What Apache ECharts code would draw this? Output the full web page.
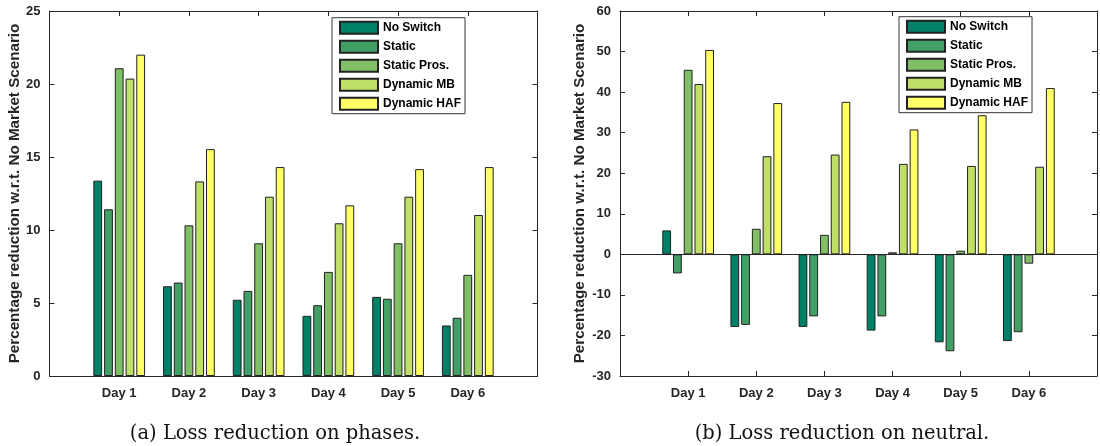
<!DOCTYPE html>
<html>
<head>
<meta charset="utf-8">
<script src="https://cdn.jsdelivr.net/npm/echarts@6/dist/echarts.min.js"></script>
<style>
  html, body { margin: 0; padding: 0; background: #fff; }
  #chart { width: 1100px; height: 446px; }
</style>
</head>
<body>
<div id="chart"></div>
<script>
// categories and series
const days = ["Day 1", "Day 2", "Day 3", "Day 4", "Day 5", "Day 6"];
const seriesNames = ["No Switch", "Static", "Static Pros.", "Dynamic MB", "Dynamic HAF"];
const colors = ["#008066", "#40A066", "#80BF66", "#BFDF66", "#FFFF66"];

// (a) loss reduction on phases
const phNoSwitch   = [13.38, 6.15, 5.22, 4.12, 5.42, 3.46];
const phStatic     = [11.42, 6.40, 5.83, 4.85, 5.29, 3.99];
const phStaticPros = [21.08, 10.32, 9.09, 7.13, 9.09, 6.93];
const phDynMB      = [20.37, 13.33, 12.28, 10.46, 12.28, 11.03];
const phDynHAF     = [22.01, 15.54, 14.31, 11.69, 14.17, 14.31];

// (b) loss reduction on neutral
const neNoSwitch   = [5.9, -17.9, -17.9, -18.8, -21.7, -21.4];
const neStatic     = [-4.7, -17.4, -15.3, -15.3, -23.9, -19.2];
const neStaticPros = [45.5, 6.3, 4.8, 0.5, 0.9, -2.3];
const neDynMB      = [42.0, 24.2, 24.6, 22.3, 21.8, 21.6];
const neDynHAF     = [50.4, 37.3, 37.6, 30.8, 34.3, 41.0];

// y ticks
const phTicks = { min: 0, max: 25, step: 5 };
const neTicks = { min: -30, max: 60, step: 10 };

const captions = ["(a) Loss reduction on phases.", "(b) Loss reduction on neutral."];
const yName = "Percentage reduction w.r.t. No Market Scenario";

const phData = [phNoSwitch, phStatic, phStaticPros, phDynMB, phDynHAF];
const neData = [neNoSwitch, neStatic, neStaticPros, neDynMB, neDynHAF];

const ink = "#262626";
const font = "Liberation Sans";

let myChart = echarts.init(document.getElementById("chart"));

function xAxes(g) {
  let base = {
    gridIndex: g,
    type: "value",
    min: 0,
    max: days.length + 1,
    interval: 1,
    splitLine: { show: false },
    axisLine: { show: true, onZero: false, lineStyle: { color: ink, width: 1 } },
    axisTick: { show: true, inside: true, length: 5, lineStyle: { color: ink } }
  };
  return [
    Object.assign({}, base, {
      position: "bottom",
      axisLabel: {
        margin: 11,
        color: ink,
        fontFamily: font,
        fontWeight: "bold",
        fontSize: 13,
        formatter: function (v) {
          return days[v - 1] || "";
        }
      }
    }),
    Object.assign({}, base, { position: "top", axisLabel: { show: false } })
  ];
}

function yAxes(g, t, gap) {
  let base = {
    gridIndex: g,
    type: "value",
    min: t.min,
    max: t.max,
    interval: t.step,
    splitLine: { show: false },
    axisLine: { show: true, onZero: false, lineStyle: { color: ink, width: 1 } },
    axisTick: { show: true, inside: true, length: 5, lineStyle: { color: ink } }
  };
  return [
    Object.assign({}, base, {
      position: "left",
      name: yName,
      nameLocation: "middle",
      nameRotate: 90,
      nameGap: gap,
      nameTextStyle: { color: ink, fontFamily: font, fontWeight: "bold", fontSize: 15.2 },
      axisLabel: { margin: 9, color: ink, fontFamily: font, fontWeight: "bold", fontSize: 13 }
    }),
    Object.assign({}, base, { position: "right", axisLabel: { show: false } })
  ];
}

function barSeries(g, dataSets) {
  return dataSets.map(function (vals, i) {
    let s = {
      name: seriesNames[i],
      type: "bar",
      xAxisIndex: g * 2,
      yAxisIndex: g * 2,
      barWidth: 8.8,
      barGap: "22%",
      itemStyle: { color: colors[i], borderColor: "#222", borderWidth: 1 },
      data: days.map(function (d, k) {
        return [k + 1, vals[k]];
      })
    };
    if (g === 1 && i === 0) {
      // baseline at zero
      s.markLine = {
        silent: true,
        symbol: ["none", "none"],
        label: { show: false },
        lineStyle: { color: ink, width: 1, type: "solid" },
        data: [{ yAxis: 0 }]
      };
    }
    return s;
  });
}

function legendAt(left, top) {
  return {
    orient: "vertical",
    left: left,
    top: top,
    data: seriesNames,
    icon: "rect",
    itemWidth: 38,
    itemHeight: 12,
    itemGap: 5,
    padding: [3, 4, 3, 7],
    selectedMode: false,
    backgroundColor: "#fff",
    borderColor: "#333",
    borderWidth: 1,
    textStyle: { color: "#000", fontFamily: font, fontWeight: "bold", fontSize: 12 }
  };
}

let option = {
  animation: false,
  title: [
    {
      text: captions[0],
      left: 270,
      top: 419,
      textAlign: "center",
      textStyle: { fontFamily: "DejaVu Serif", fontWeight: "normal", fontSize: 19.5, color: "#111" }
    },
    {
      text: captions[1],
      left: 837,
      top: 419,
      textAlign: "center",
      textStyle: { fontFamily: "DejaVu Serif", fontWeight: "normal", fontSize: 19.5, color: "#111" }
    }
  ],
  legend: [legendAt(332, 17.7), legendAt(899, 16.7)],
  grid: [
    { left: 49.5, top: 11, width: 488, height: 365 },
    { left: 620, top: 11, width: 484, height: 365 }
  ],
  xAxis: xAxes(0).concat(xAxes(1)),
  yAxis: yAxes(0, phTicks, 27.5).concat(yAxes(1, neTicks, 32.5)),
  series: barSeries(0, phData).concat(barSeries(1, neData))
};

myChart.setOption(option, true);
</script>
</body>
</html>
